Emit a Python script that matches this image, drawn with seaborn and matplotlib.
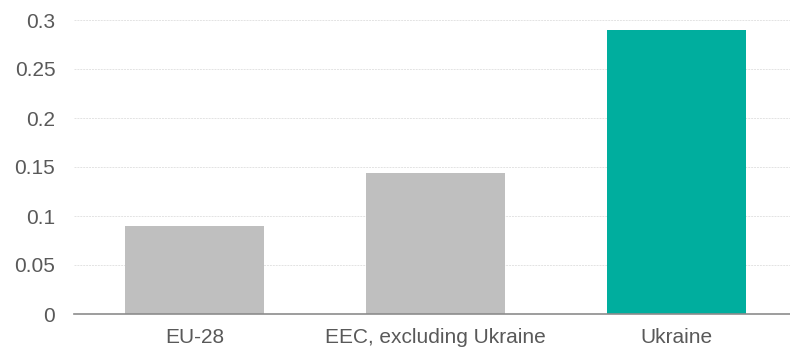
import matplotlib
matplotlib.use("Agg")
import matplotlib.pyplot as plt
import seaborn as sns
import pandas as pd

categories = ["EU-28", "EEC, excluding Ukraine", "Ukraine"]
values = [0.09, 0.144, 0.29]
colors = ["#BFBFBF", "#BFBFBF", "#00AE9E"]
yticks = [0, 0.05, 0.1, 0.15, 0.2, 0.25, 0.3]
ytick_labels = ["0", "0.05", "0.1", "0.15", "0.2", "0.25", "0.3"]

sns.set_theme(style="white")
plt.rcParams["font.family"] = ["Liberation Sans", "DejaVu Sans"]

df = pd.DataFrame({"cat": categories, "val": values})

fig = plt.figure(figsize=(7.9, 3.49), dpi=100)
ax = fig.add_axes([74 / 790, 1 - 314 / 349, 723 / 790, 294 / 349])
sns.barplot(data=df, x="cat", y="val", hue="cat", palette=colors, width=0.573,
            legend=False, ax=ax, saturation=1)
ax.set_xlim(-0.5, 2.5)
ax.set_ylim(0, 0.3)
ax.set_yticks(yticks)
ax.set_yticklabels(ytick_labels)
ax.set_xlabel("")
ax.set_ylabel("")
for s in ["top", "right", "left"]:
    ax.spines[s].set_visible(False)
ax.spines["bottom"].set_color("#8C8C8C")
ax.spines["bottom"].set_linewidth(1.2)
ax.yaxis.grid(True, color="#E3E3E3", linestyle=(0, (2, 1)), linewidth=0.7)
ax.set_axisbelow(True)
ax.tick_params(axis="both", length=0, labelsize=15, colors="#595959")
ax.tick_params(axis="y", pad=13.5)
ax.tick_params(axis="x", pad=10)
for b in ax.patches:
    b.set_edgecolor("none")
fig.savefig("out.png", dpi=100)
